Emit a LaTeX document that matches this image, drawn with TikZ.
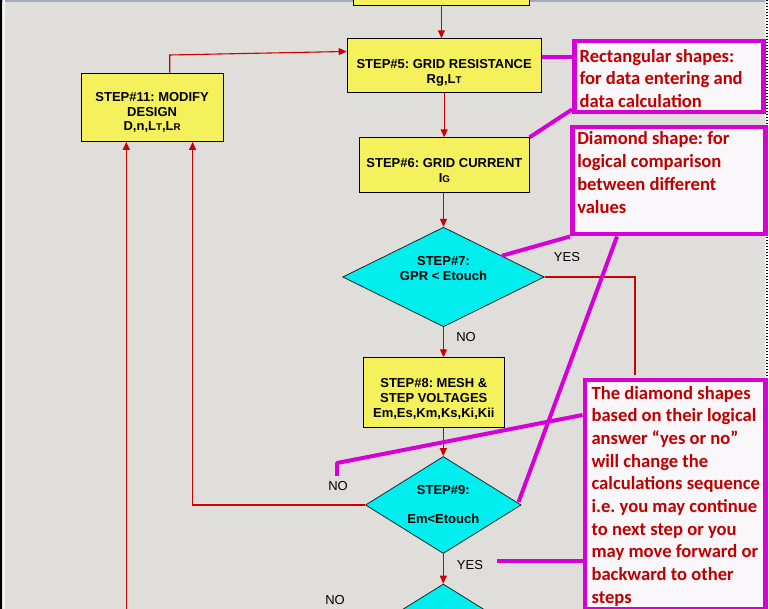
\documentclass[tikz,border=0pt]{standalone}
\usepackage{fontspec}
\setmainfont{Liberation Sans}
\newfontfamily\cfont{Carlito}
\usetikzlibrary{shapes.geometric,arrows.meta,calc}
\newcommand\subsz{\fontsize{9.8}{10}\selectfont}
\definecolor{bg}{RGB}{224,222,219}
\definecolor{boxy}{RGB}{245,241,92}
\definecolor{cyanf}{RGB}{0,238,238}
\definecolor{redl}{RGB}{204,0,0}
\definecolor{mag}{RGB}{214,0,214}
\definecolor{cfill}{RGB}{249,247,249}
\definecolor{ctext}{RGB}{192,0,0}
\definecolor{topline}{RGB}{160,172,190}
\frenchspacing
\begin{document}
\begin{tikzpicture}[x=1pt,y=-1pt,
  stepbox/.style={draw=black, line width=0.9pt, fill=boxy, inner sep=0pt, align=center,
    font=\bfseries\fontsize{13}{15}\selectfont, anchor=north west},
  decide/.style={diamond, draw=black!85, line width=0.8pt, fill=cyanf, inner sep=0pt, align=center,
    font=\bfseries\fontsize{13}{15}\selectfont},
  flow/.style={draw=redl, line width=1.1pt, -{Triangle[length=8pt,width=7pt]}},
  flowline/.style={draw=redl, line width=1.1pt},
  lbl/.style={font=\fontsize{13}{15}\selectfont, inner sep=1pt},
  callout/.style={draw=mag, line width=4.5pt, fill=cfill, inner sep=0pt, anchor=north west,
    text=ctext, font=\cfont\bfseries\fontsize{18.6}{22.7}\selectfont},
  pointer/.style={draw=mag, line width=4pt, line join=round}
]
\useasboundingbox (0,0) rectangle (769,609);
\clip (0,0) rectangle (769,609);
\fill[bg] (0,0) rectangle (769,609);
% frame
\draw[topline, line width=2pt] (0,1) -- (769,1);
\draw[black, line width=1.6pt] (1.2,0) -- (1.2,609);
\draw[white!70!bg, line width=1.5pt] (3.8,0) -- (3.8,609);
\fill[white] (765,0) rectangle (769,609);
\draw[black, line width=1.6pt, dash pattern=on 1.5pt off 1.5pt] (767,0) -- (767,609);

% flow boxes
\node[stepbox, anchor=south west, minimum width=176.6pt, minimum height=40pt] (s4) at (352.7,6) {};
\node[stepbox, minimum width=194pt, minimum height=53.4pt] (s5) at (346.7,38.3)
  {\rule{0pt}{23.8pt}STEP\#5: GRID RESISTANCE\\[0.6pt]Rg,L{\subsz T}};
\node[stepbox, minimum width=142pt, minimum height=68.3pt] (s11) at (80.7,72.7)
  {\rule{0pt}{20pt}STEP\#11: MODIFY\\[-0.5pt]DESIGN\\[-0.5pt]D,n,L{\subsz T},L{\subsz R}};
\node[stepbox, minimum width=169.4pt, minimum height=54.4pt] (s6) at (359.3,137.3)
  {\rule{0pt}{20.4pt}STEP\#6: GRID CURRENT\\[0.5pt]I{\subsz G}};
\node[decide, aspect=2, minimum width=201.6pt, minimum height=99.6pt] (d7) at (443.5,277)
  {STEP\#7:\\GPR < Etouch\rule[-17pt]{0pt}{17pt}};
\node[stepbox, minimum width=141.3pt, minimum height=69.4pt] (s8) at (362.7,357.3)
  {\rule{0pt}{21.8pt}STEP\#8: MESH \&\\STEP VOLTAGES\\Em,Es,Km,Ks,Ki,Kii};
\node[decide, aspect=1.6, minimum width=155.7pt, minimum height=97pt] (d9) at (443.3,505)
  {STEP\#9:\\[14pt]Em<Etouch};
\node[decide, aspect=1.6, minimum width=155.7pt, minimum height=97pt] (d10) at (443.3,632.5) {};

% labels
\node[lbl] (yes7) at (567,257.5) {YES};
\node[lbl] (no7) at (466,336.7) {NO};
\node[lbl] (no9) at (338,486) {NO};
\node[lbl] (yes9) at (470,565) {YES};
\node[lbl] (no10) at (335,600) {NO};

% flow connectors
\draw[flow] (s4.south) -- (s4.south |- s5.north);
\draw[flow] (s5.south) -- (s5.south |- s6.north);
\draw[flow] (s6.south -| d7.north) -- (d7.north);
\draw[flow] (d7.south) -- (d7.south |- s8.north);
\draw[flow] (s8.south -| d9.north) -- (d9.north);
\draw[flow] (d9.south) -- (d10.north);
\draw[flow] (d9.west) -| ([xshift=-31pt]s11.south east);
\coordinate (lpin) at (126.3,615);
\draw[flow] (lpin) -- (lpin |- s11.south);
\draw[flow] ([xshift=17.6pt]s11.north) -- ([xshift=17.6pt,yshift=17.7pt]s11.north) -- ([yshift=14pt]s5.west);

% callouts
\node[callout] (c1) at (572,39) {\parbox[c][71pt][t]{189pt}{\leftskip=5.3pt\vspace*{8pt}Rectangular shapes:\\for data entering and\\data calculation}};
\node[callout] (c2) at (570,125) {\parbox[c][107pt][t]{193pt}{\leftskip=5pt\vspace*{4.7pt}Diamond shape: for\\logical comparison\\between different\\values}};
\node[callout] (c3) at (582.5,378) {\parbox[c][228.5pt][t]{180.8pt}{\leftskip=6.8pt\vspace*{5.7pt}The diamond shapes\\based on their logical\\answer “yes or no”\\will change the\\calculations sequence\\i.e. you may continue\\to next step or you\\may move forward or\\backward to other\\steps}};

% YES branch of step 7 (goes under callout 3)
\draw[flowline] (d7.east) -| ([xshift=52.5pt,yshift=2.5pt]c3.north west);

% pointers
\coordinate (p5) at ([yshift=8.3pt]s5.east);
\draw[pointer] (p5) -- (p5 -| c1.west);
\draw[pointer] ([yshift=5pt]c1.south west) -- (s6.north east);
\draw[pointer] (d7.20) -- (c2.south west);
\draw[pointer] ([xshift=47pt]c2.south west) -- ([shift={(-3pt,3pt)}]d9.east);
\coordinate (hk) at (337,463);
\draw[pointer] ([yshift=-37pt]c3.north west) -- (hk) -- ([yshift=-13pt]hk);
\coordinate (m9) at ([shift={(13pt,4pt)}]yes9.east);
\draw[pointer] (m9) -- (m9 -| c3.west);
\end{tikzpicture}
\end{document}
